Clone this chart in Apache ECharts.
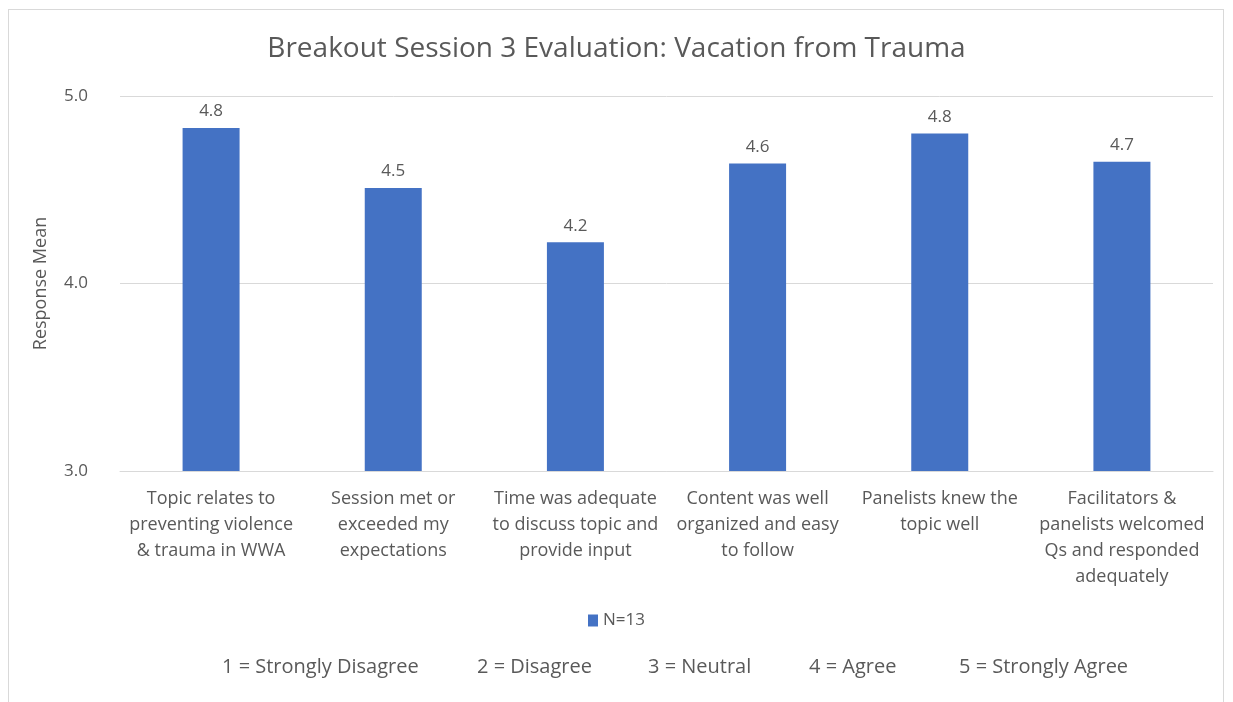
<!DOCTYPE html>
<html>
<head>
<meta charset="utf-8">
<script src="https://cdn.jsdelivr.net/npm/echarts@6/dist/echarts.min.js"></script>
<style>
  html, body { margin: 0; padding: 0; background: #fff; }
  #frame {
    position: absolute; left: 8px; top: 9px; width: 1216px; height: 700px;
    border: 1px solid #d9d9d9; box-sizing: border-box;
  }
  #chart { position: absolute; left: 0; top: 0; width: 1233px; height: 702px; }
</style>
</head>
<body>
<div id="frame"></div>
<div id="chart"></div>
<script>
const categories = [
  'Topic relates to\npreventing violence\n& trauma in WWA',
  'Session met or\nexceeded my\nexpectations',
  'Time was adequate\nto discuss topic and\nprovide input',
  'Content was well\norganized and easy\nto follow',
  'Panelists knew the\ntopic well',
  'Facilitators &\npanelists welcomed\nQs and responded\nadequately'
];
const means = [4.83, 4.51, 4.22, 4.64, 4.8, 4.65];
const seriesName = 'N=13';
const scaleNotes = ['1 = Strongly Disagree', '2 = Disagree', '3 = Neutral', '4 = Agree', '5 = Strongly Agree'];
const noteX = [222, 477, 648, 809, 959];

const font = '"Open Sans", "Noto Sans", sans-serif';
const grey = '#595959';

const chart = echarts.init(document.getElementById('chart'));
chart.setOption({
  animation: false,
  textStyle: { fontFamily: font },
  title: {
    text: 'Breakout Session 3 Evaluation: Vacation from Trauma',
    left: 'center',
    top: 30,
    textStyle: { fontFamily: font, fontSize: 28, fontWeight: 'normal', color: grey }
  },
  legend: {
    data: [seriesName],
    bottom: 68,
    left: 'center',
    icon: 'rect',
    itemWidth: 10,
    itemHeight: 12,
    itemGap: 5,
    textStyle: { fontFamily: font, fontSize: 17, color: grey }
  },
  grid: { left: 120, right: 20, top: 96, bottom: 231 },
  xAxis: {
    type: 'category',
    data: categories,
    axisLine: { lineStyle: { color: '#d9d9d9', width: 1 } },
    axisTick: { show: false },
    axisLabel: {
      interval: 0,
      margin: 15,
      fontSize: 18,
      lineHeight: 26,
      color: grey,
      fontFamily: font
    }
  },
  yAxis: {
    type: 'value',
    min: 3,
    max: 5,
    interval: 1,
    name: 'Response Mean',
    nameLocation: 'middle',
    nameGap: 70,
    nameTextStyle: { fontFamily: font, fontSize: 18, color: grey },
    axisLine: { show: false },
    axisTick: { show: false },
    axisLabel: {
      margin: 32,
      fontSize: 17,
      color: grey,
      fontFamily: font,
      formatter: v => v.toFixed(1)
    },
    splitLine: { lineStyle: { color: '#d9d9d9', width: 1 } }
  },
  series: [{
    name: seriesName,
    type: 'bar',
    data: means,
    barWidth: 57,
    itemStyle: { color: '#4472c4' },
    label: {
      show: true,
      position: 'top',
      distance: 8,
      fontSize: 17,
      color: grey,
      fontFamily: font,
      formatter: p => p.value.toFixed(1)
    }
  }],
  graphic: scaleNotes.map((t, i) => ({
    type: 'text',
    left: noteX[i],
    top: 657,
    style: { text: t, fontFamily: font, fontSize: 20, fill: grey }
  }))
});
</script>
</body>
</html>
